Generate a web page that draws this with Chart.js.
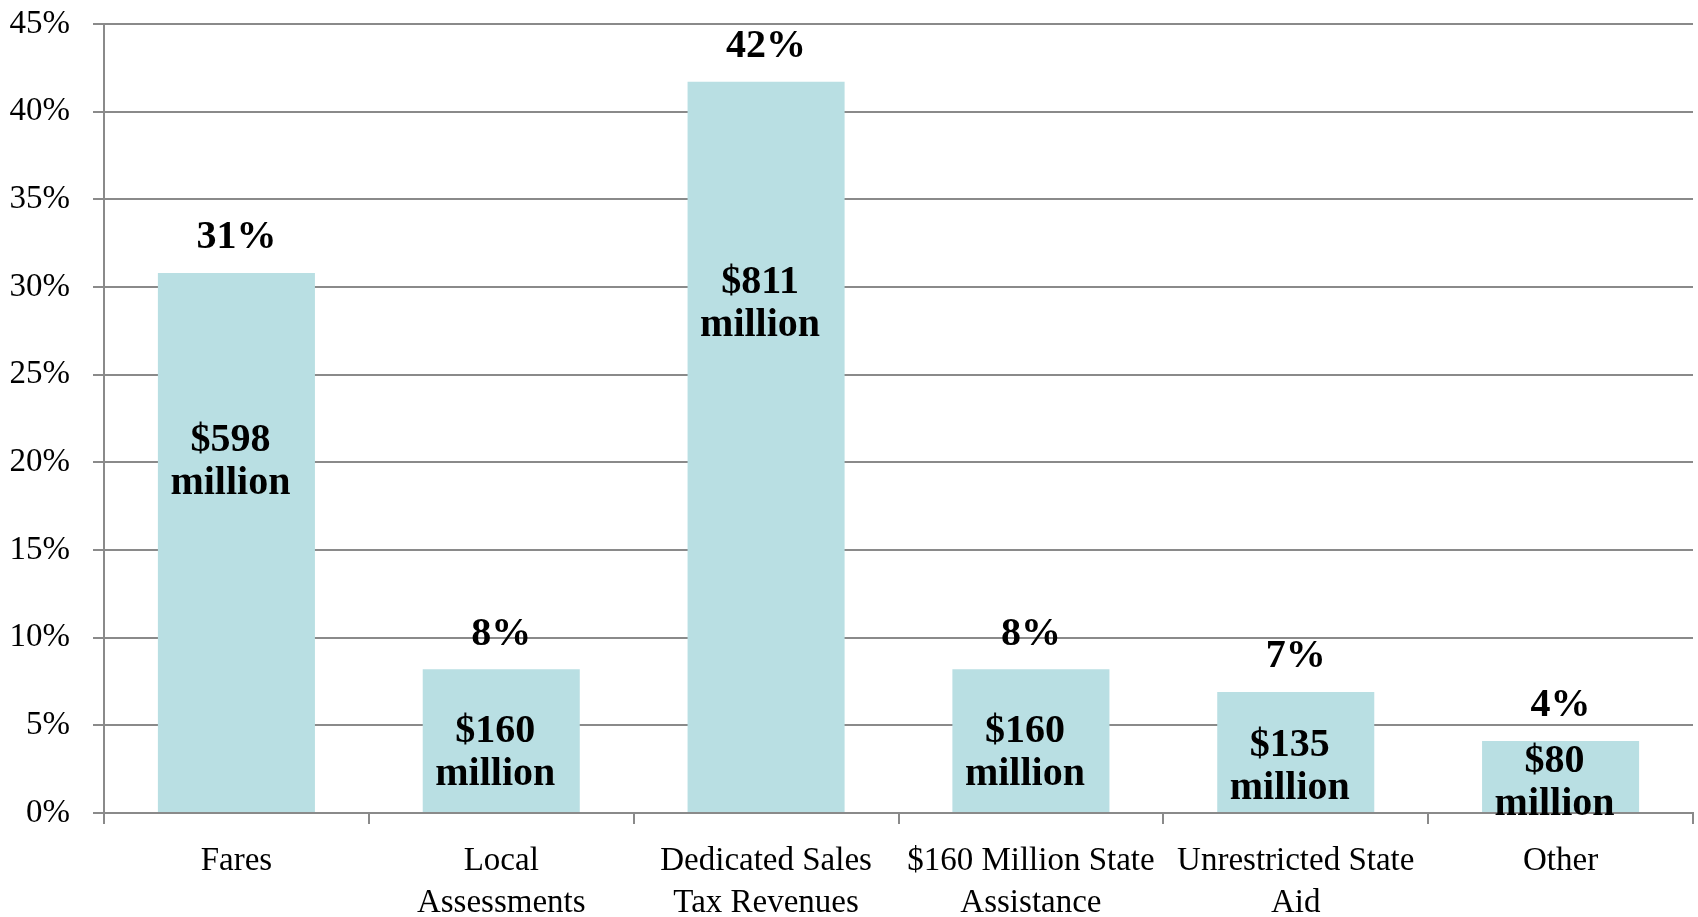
<!DOCTYPE html>
<html>
<head>
<meta charset="utf-8">
<script src="https://cdn.jsdelivr.net/npm/chart.js@4"></script>
<style>
  body { margin: 0; background: #fff; }
  #wrap { width: 1698px; height: 917px; }
</style>
</head>
<body>
<div id="wrap"><canvas id="myChart" width="1698" height="917"></canvas></div>
<script>
// categories (x axis, split in lines like the original)
var categories = [
  ["Fares"],
  ["Local", "Assessments"],
  ["Dedicated Sales", "Tax Revenues"],
  ["$160 Million State", "Assistance"],
  ["Unrestricted State", "Aid"],
  ["Other"]
]
// share of revenue, percent
var shares = [30.8, 8.2, 41.7, 8.2, 6.9, 4.1]
// amount in millions of dollars
var millions = [598, 160, 811, 160, 135, 80]

var serif = "'Liberation Serif', 'Times New Roman', serif"
var grey = "#8a8a8a"

// where the "$x million" text sits inside each bar, as a fraction of bar height from the base
var innerAt = [0.655, 0.434, 0.70, 0.434, 0.40, 0.46]

var barLabels = {
  id: "barLabels",
  afterDatasetsDraw: function(chart) {
    var ctx = chart.ctx
    var meta = chart.getDatasetMeta(0)
    ctx.save()
    ctx.fillStyle = "#000"
    ctx.textAlign = "center"
    ctx.textBaseline = "middle"
    meta.data.forEach(function(bar, i) {
      var top = bar.y
      var base = bar.base
      ctx.font = "bold 40px " + serif
      ctx.fillText(Math.round(shares[i]) + "%", bar.x, top - 35)
      var cy = base - innerAt[i] * (base - top) + 3
      ctx.fillText("$" + millions[i], bar.x - 6, cy - 21)
      ctx.fillText("million", bar.x - 6, cy + 22)
    })
    ctx.restore()
  }
}

var chart = new Chart("myChart", {
  type: "bar",
  data: {
    labels: categories,
    datasets: [{
      data: shares,
      backgroundColor: "#b9dfe3",
      borderWidth: 0,
      barPercentage: 0.593,
      categoryPercentage: 1
    }]
  },
  options: {
    responsive: false,
    animation: false,
    layout: { padding: { top: 24, right: 5, left: 0, bottom: 0 } },
    plugins: {
      legend: { display: false },
      tooltip: { enabled: false }
    },
    scales: {
      x: {
        grid: {
          offset: true,
          drawOnChartArea: false,
          drawTicks: true,
          tickLength: 11,
          color: grey,
          lineWidth: 2
        },
        border: { display: true, color: grey, width: 2 },
        ticks: {
          color: "#000",
          font: { family: serif, size: 33, lineHeight: 1.27 },
          padding: 16,
          maxRotation: 0,
          autoSkip: false
        },
        afterFit: function(scale) { scale.height = 104 }
      },
      y: {
        min: 0,
        max: 45,
        grid: {
          color: grey,
          lineWidth: 2,
          tickLength: 11
        },
        border: { display: true, color: grey, width: 2 },
        ticks: {
          stepSize: 5,
          color: "#000",
          font: { family: serif, size: 33 },
          padding: 23,
          callback: function(v) { return v + "%" }
        },
        afterFit: function(scale) {
          scale.width = 104
          scale.paddingTop = 0
          scale.paddingBottom = 0
        }
      }
    }
  },
  plugins: [barLabels]
})
</script>
</body>
</html>
